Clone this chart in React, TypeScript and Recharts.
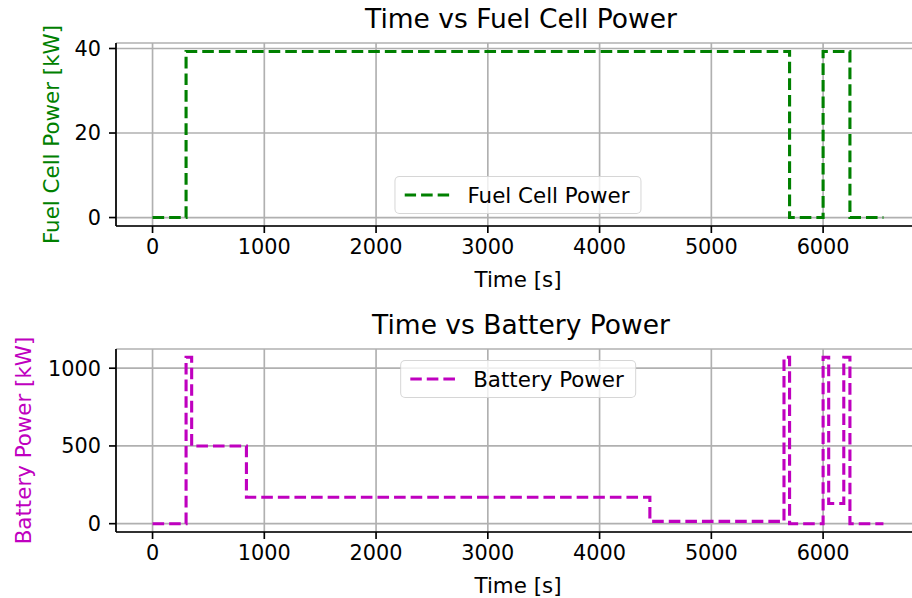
import React from 'react';
import { LineChart, Line, XAxis, YAxis, CartesianGrid } from 'recharts';

// shared x axis
const timeTicks = [0, 1000, 2000, 3000, 4000, 5000, 6000];

// fuel cell power, kW (step changes)
const fcTime = [0, 300, 5700, 6000, 6240, 6540];
const fcPower = [0, 39.3, 0, 39.3, 0, 0];
const fcTicks = [0, 20, 40];

// battery power, kW (step changes)
const batTime = [0, 300, 350, 840, 4450, 5650, 5700, 6000, 6050, 6185, 6240, 6540];
const batPower = [0, 1070, 500, 170, 15, 1070, 0, 1070, 130, 1070, 0, 0];
const batTicks = [0, 500, 1000];

const FONT = '"DejaVu Sans", sans-serif';
const GREEN = '#008000';
const MAGENTA = '#bf00bf';
const FS = 20.8; // tick labels
const LFS = 21.4; // axis labels, legend
const LW = 1.67;
const PLOT_H = 183;

type PanelProps = {
  top: number;
  title: string;
  yLabel: string;
  color: string;
  times: number[];
  values: number[];
  yDomain: [number, number];
  yTicks: number[];
  yLabelX: number;
  legendTop: number;
  legendName: string;
};

const Panel = ({ top, title, yLabel, color, times, values, yDomain, yTicks, yLabelX, legendTop, legendName }: PanelProps) => {
  const data = times.map((t, i) => ({ t, p: values[i] }));

  // x label under the axis, title above the plot box
  const xLabel = (props: any) => {
    const vb = props.viewBox || { x: 116, y: 226, width: 804 };
    const cx = vb.x + vb.width / 2;
    return (
      <g>
        <text x={cx} y={vb.y + 61} textAnchor="middle" fontFamily={FONT} fontSize={LFS} fill="#000">
          Time [s]
        </text>
        <text x={cx + 3} y={vb.y - PLOT_H - 15} textAnchor="middle" fontFamily={FONT} fontSize={26.5} fill="#000">
          {title}
        </text>
      </g>
    );
  };

  const yLab = (props: any) => {
    const vb = props.viewBox || { x: 0, y: 43, height: PLOT_H };
    const cx = vb.x + yLabelX;
    const cy = vb.y + vb.height / 2;
    return (
      <text x={cx} y={cy} transform={`rotate(-90, ${cx}, ${cy})`} textAnchor="middle" fontFamily={FONT} fontSize={LFS} fill={color}>
        {yLabel}
      </text>
    );
  };

  return (
    <div style={{ position: 'absolute', left: 0, top, width: 930, height: 300 }}>
      <LineChart width={930} height={300} data={data} margin={{ top: 43, right: 10, bottom: 0, left: 0 }}>
        <CartesianGrid stroke="#b0b0b0" strokeWidth={LW} />
        <XAxis
          dataKey="t"
          type="number"
          domain={[-327, 6867]}
          ticks={timeTicks}
          allowDataOverflow
          height={74}
          tickSize={7}
          tickMargin={6}
          stroke="#000"
          strokeWidth={LW}
          tick={{ fill: '#000', fontSize: FS, fontFamily: FONT }}
          label={xLabel}
        />
        <XAxis
          xAxisId="top"
          orientation="top"
          dataKey="t"
          type="number"
          domain={[-327, 6867]}
          allowDataOverflow
          height={0}
          tick={false}
          tickLine={false}
          stroke="#000"
          strokeWidth={LW}
        />
        <YAxis
          type="number"
          domain={yDomain}
          ticks={yTicks}
          allowDataOverflow
          width={116}
          tickSize={7}
          tickMargin={8}
          stroke="#000"
          strokeWidth={LW}
          tick={{ fill: '#000', fontSize: FS, fontFamily: FONT }}
          label={yLab}
        />
        <Line
          type="stepAfter"
          dataKey="p"
          stroke={color}
          strokeWidth={3.1}
          strokeDasharray="11.6 5"
          dot={false}
          activeDot={false}
          isAnimationActive={false}
        />
      </LineChart>
      <div
        style={{
          position: 'absolute',
          left: 518,
          top: legendTop,
          transform: 'translateX(-50%)',
          height: 38,
          boxSizing: 'border-box',
          border: `${LW}px solid rgba(204,204,204,0.8)`,
          borderRadius: 5,
          background: 'rgba(255,255,255,0.8)',
          display: 'flex',
          alignItems: 'center',
          paddingLeft: 9,
          paddingRight: 11,
          fontFamily: FONT,
          fontSize: LFS,
          color: '#000',
          whiteSpace: 'nowrap',
        }}
      >
        <svg width={45} height={6} style={{ marginRight: 18 }}>
          <line x1={0} y1={3} x2={45} y2={3} stroke={color} strokeWidth={3.1} strokeDasharray="11.6 5" />
        </svg>
        <span>{legendName}</span>
      </div>
    </div>
  );
};

const App = () => {
  return (
    <div style={{ position: 'fixed', left: 0, top: 0, width: 912, height: 598, overflow: 'hidden', background: '#fff' }}>
      <Panel
        top={0}
        title="Time vs Fuel Cell Power"
        yLabel="Fuel Cell Power [kW]"
        color={GREEN}
        times={fcTime}
        values={fcPower}
        yDomain={[-2, 41.3]}
        yTicks={fcTicks}
        yLabelX={59}
        legendTop={176}
        legendName="Fuel Cell Power"
      />
      <Panel
        top={306}
        title="Time vs Battery Power"
        yLabel="Battery Power [kW]"
        color={MAGENTA}
        times={batTime}
        values={batPower}
        yDomain={[-53.5, 1123.5]}
        yTicks={batTicks}
        yLabelX={31}
        legendTop={54}
        legendName="Battery Power"
      />
    </div>
  );
};

export default App;
